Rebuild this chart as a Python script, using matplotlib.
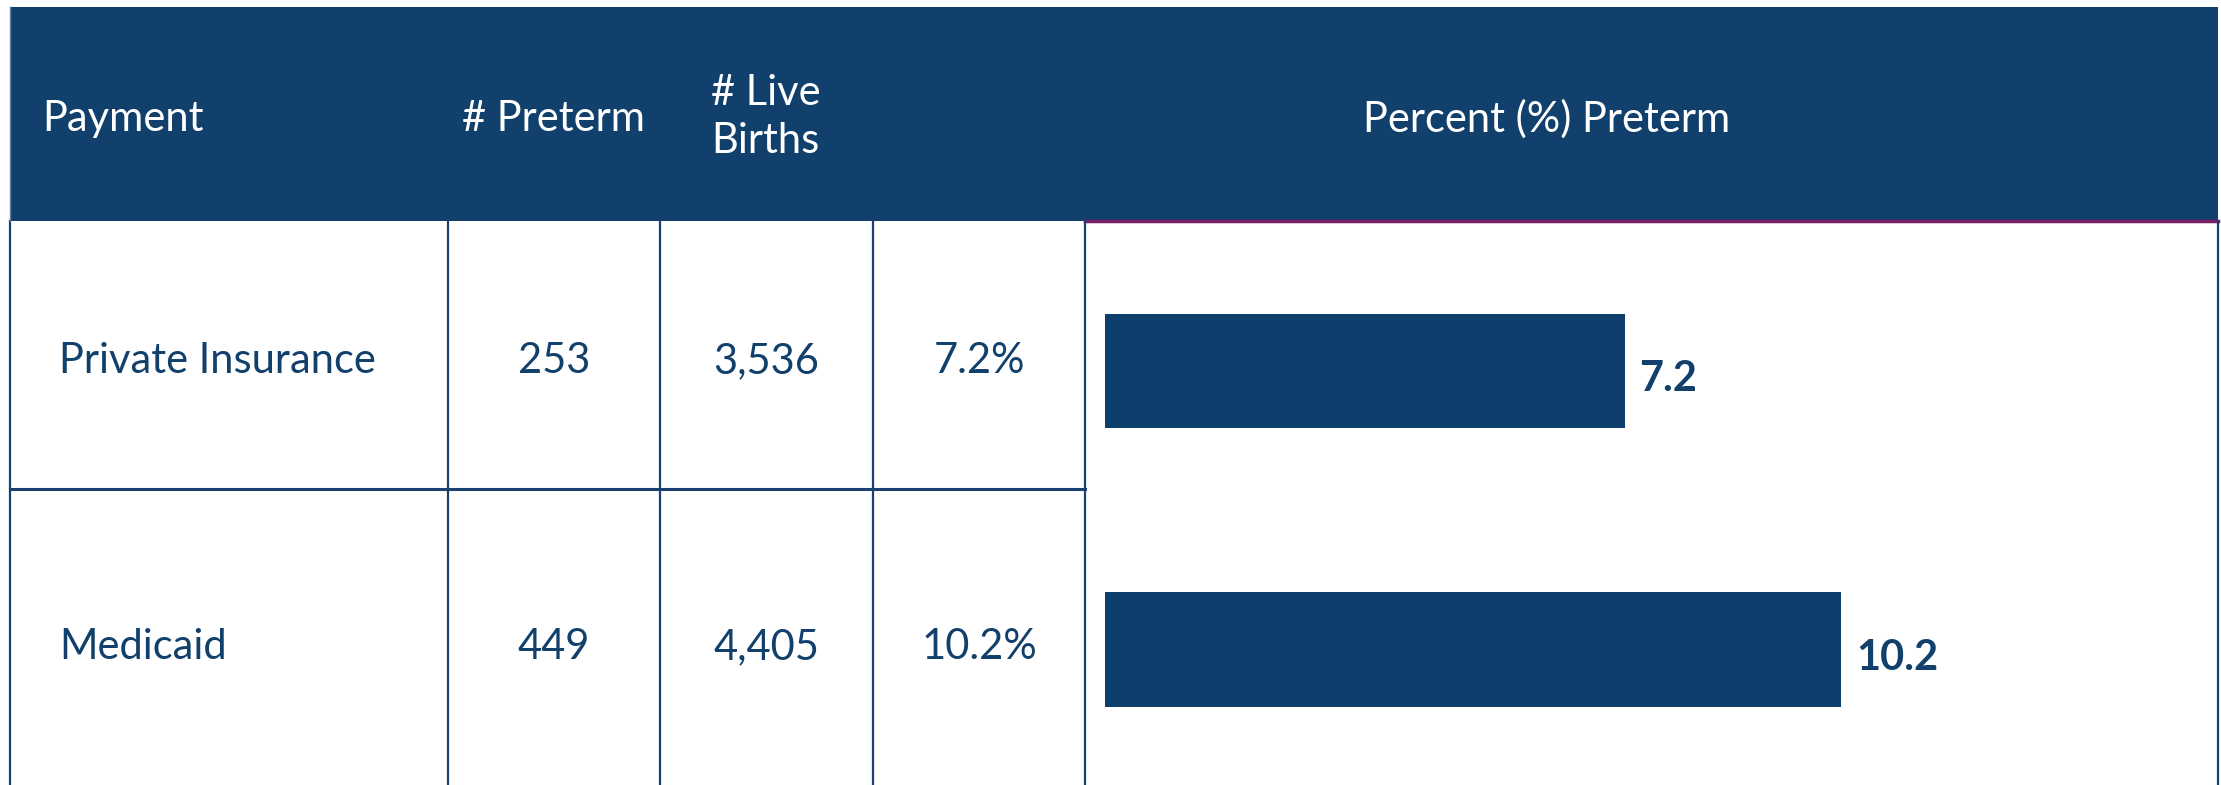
import matplotlib
matplotlib.use('Agg')
import matplotlib.pyplot as plt
from matplotlib.patches import Rectangle

# data
payments = ['Private Insurance', 'Medicaid']
n_preterm = [253, 449]
n_live = [3536, 4405]
pct_preterm = [7.2, 10.2]
headers = ['Payment', '# Preterm', '# Live\nBirths', 'Percent (%) Preterm']

navy = '#10406B'
bar_col = '#0E3F6C'
line_col = '#1A4170'
plt.rcParams['font.family'] = ['Lato', 'DejaVu Sans']

W, H = 2221, 785
fig = plt.figure(figsize=(W / 100, H / 100), dpi=100)
ax = fig.add_axes([0, 0, 1, 1])
ax.set_xlim(0, W)
ax.set_ylim(H, 0)
ax.axis('off')

cols = [10, 448, 660, 873, 1085, 2218]
head_top, head_bot, row_div = 7, 221, 489

# header block
ax.add_patch(Rectangle((cols[0], head_top), cols[-1] - cols[0], head_bot - head_top,
                       facecolor=navy, edgecolor='none'))
ax.plot([cols[4], cols[5]], [head_bot, head_bot], color='#7A1E6C', lw=2.5)

# grid lines
for x in cols:
    ax.plot([x, x], [head_bot, H], color=line_col, lw=1.6)
ax.plot([cols[0], cols[4]], [row_div, row_div], color=line_col, lw=2.2)
ax.plot([cols[0], cols[0]], [head_top, head_bot], color='#5E7FA0', lw=1)

fs = 30
hy = 119
ax.text(42, hy, headers[0], color='white', fontsize=fs, va='center', ha='left')
ax.text((cols[1] + cols[2]) / 2, hy, headers[1], color='white', fontsize=fs, va='center', ha='center')
ax.text(711, hy - 2, headers[2], color='white', fontsize=fs, va='center', ha='left', linespacing=1.35)
ax.text(1547, hy, headers[3], color='white', fontsize=fs, va='center', ha='center')

row_y = [361, 647]
for i, y in enumerate(row_y):
    ax.text(59, y, payments[i], color=navy, fontsize=fs, va='center', ha='left')
    ax.text((cols[1] + cols[2]) / 2, y, f'{n_preterm[i]:,}', color=navy, fontsize=fs, va='center', ha='center')
    ax.text((cols[2] + cols[3]) / 2, y, f'{n_live[i]:,}', color=navy, fontsize=fs, va='center', ha='center')
    ax.text((cols[3] + cols[4]) / 2, y, f'{pct_preterm[i]}%', color=navy, fontsize=fs, va='center', ha='center')

# bar panel
bx0, bx1 = 1105, 2216
by0, by1 = 222, 783
bax = fig.add_axes([bx0 / W, 1 - by1 / H, (bx1 - bx0) / W, (by1 - by0) / H])
bax.barh(range(len(pct_preterm)), pct_preterm, height=0.41, color=bar_col)
px_per_unit = 72.2
row_px = 278.5
bax.set_xlim(0, (bx1 - bx0) / px_per_unit)
top = -(371 - by0) / row_px
bax.set_ylim(top + (by1 - by0) / row_px, top)
bax.axis('off')
for i, v in enumerate(pct_preterm):
    bax.text(v + 0.2, i + 0.03, f'{v}', color=navy, fontsize=fs, fontweight='bold',
             va='center', ha='left')

fig.savefig('out.png', dpi=100)
